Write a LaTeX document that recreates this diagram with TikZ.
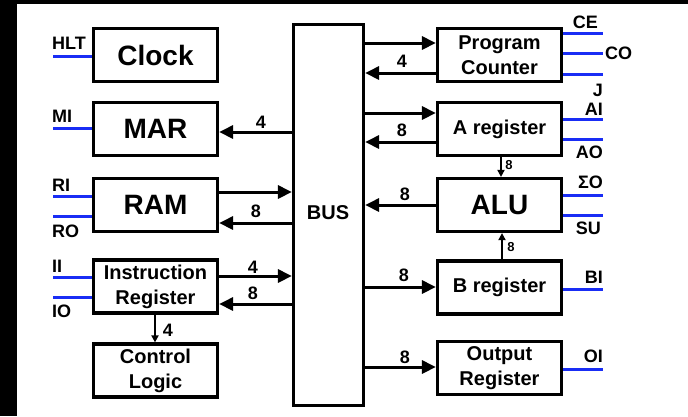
\documentclass[tikz,border=0pt]{standalone}
\usepackage{fontspec}
\setmainfont{Liberation Sans}
\usetikzlibrary{arrows.meta}
\definecolor{ctl}{RGB}{25,45,245}
\begin{document}
\begin{tikzpicture}[x=1pt,y=-1pt,
  box/.style={draw,line width=3.2pt,minimum width=124pt,minimum height=53pt,inner sep=0pt,align=center,font=\fontsize{20}{25}\selectfont\bfseries},
  bigbox/.style={box,font=\fontsize{28}{30}\selectfont\bfseries},
  arr/.style={line width=3pt,-{Triangle[length=14pt,width=13pt]}},
  sarr/.style={line width=1.8pt,-{Triangle[length=7pt,width=7pt]}},
  ctlline/.style={ctl,line width=3pt},
  lbl/.style={inner sep=0pt,font=\fontsize{18}{20}\selectfont\bfseries},
  num/.style={inner sep=0pt,font=\fontsize{18}{20}\selectfont\bfseries},
  snum/.style={inner sep=0pt,font=\fontsize{13}{14}\selectfont\bfseries}]
\fill[black] (0,0) rectangle (688,416);
\fill[white] (17,4) rectangle (688,416);
\useasboundingbox (0,0) rectangle (688,416);

% boxes
\node[bigbox] (clock) at (155.5,55) {Clock};
\node[bigbox] (mar) at (155.5,129) {MAR};
\node[bigbox] (ram) at (155.5,205) {RAM};
\node[box] (ir) at (155.5,286.5) {Instruction\\Register};
\node[box] (cl) at (155.5,370.5) {Control\\Logic};
\node[draw,line width=3.2pt,minimum width=70pt,minimum height=381pt,inner sep=0pt] (bus) at (328.5,215) {};
\node[inner sep=0pt,font=\fontsize{20}{22}\selectfont\bfseries] (buslbl) at (328,213) {BUS};
\node[box] (pc) at (499.5,55) {Program\\Counter};
\node[box] (areg) at (499.5,129) {A register};
\node[bigbox] (alu) at (499.5,205) {ALU};
\node[box] (breg) at (499.5,287.5) {B register};
\node[box] (out) at (499.5,368) {Output\\Register};

% bus connections, left
\draw[arr] (bus.west |- 0,132) -- (mar.east |- 0,132);
\draw[arr] (ram.east |- 0,192) -- (bus.west |- 0,192);
\draw[arr] (bus.west |- 0,223) -- (ram.east |- 0,223);
\draw[arr] (ir.east |- 0,276) -- (bus.west |- 0,276);
\draw[arr] (bus.west |- 0,304) -- (ir.east |- 0,304);
\draw[sarr] (ir.south -| 155,0) -- (cl.north -| 155,0);

\node[num] (n1) at (261,122) {4};
\node[num] (n2) at (256,211) {8};
\node[num] (n3) at (253,267) {4};
\node[num] (n4) at (253,293) {8};
\node[num] (n5) at (168,330) {4};

% bus connections, right
\draw[arr] (bus.east |- 0,43) -- (pc.west |- 0,43);
\draw[arr] (pc.west |- 0,73) -- (bus.east |- 0,73);
\draw[arr] (bus.east |- 0,113) -- (areg.west |- 0,113);
\draw[arr] (areg.west |- 0,142) -- (bus.east |- 0,142);
\draw[arr] (alu.west |- 0,205) -- (bus.east |- 0,205);
\draw[arr] (bus.east |- 0,287) -- (breg.west |- 0,287);
\draw[arr] (bus.east |- 0,367) -- (out.west |- 0,367);
\draw[sarr] (areg.south -| 501,0) -- (alu.north -| 501,0);
\draw[sarr] (breg.north -| 502,0) -- (alu.south -| 502,0);

\node[num] (n6) at (402,61) {4};
\node[num] (n7) at (402,130) {8};
\node[num] (n8) at (405,194) {8};
\node[num] (n9) at (404,275) {8};
\node[num] (n10) at (405,357) {8};
\node[snum] (n11) at (509,165) {8};
\node[snum] (n12) at (511,247) {8};

% control lines, left
\coordinate (hltend) at (53,56);
\coordinate (miend) at (53,128);
\coordinate (riend) at (53,196);
\coordinate (roend) at (53,216);
\coordinate (iiend) at (53,277);
\coordinate (ioend) at (53,297);
\draw[ctlline] (clock.west |- hltend) -- (hltend);
\draw[ctlline] (mar.west |- miend) -- (miend);
\draw[ctlline] (ram.west |- riend) -- (riend);
\draw[ctlline] (ram.west |- roend) -- (roend);
\draw[ctlline] (ir.west |- iiend) -- (iiend);
\draw[ctlline] (ir.west |- ioend) -- (ioend);
\node[lbl,anchor=west] (hlt) at (52,43) {HLT};
\node[lbl,anchor=west] (mi) at (52,116) {MI};
\node[lbl,anchor=west] (ri) at (52,185) {RI};
\node[lbl,anchor=west] (ro) at (52,231) {RO};
\node[lbl,anchor=west] (ii) at (52,266) {II};
\node[lbl,anchor=west] (io) at (52,311) {IO};

% control lines, right
\coordinate (ceend) at (603,33);
\coordinate (coend) at (603,53);
\coordinate (jend) at (603,74);
\coordinate (aiend) at (603,119);
\coordinate (aoend) at (603,139);
\coordinate (soend) at (603,195);
\coordinate (suend) at (603,215);
\coordinate (biend) at (603,289);
\coordinate (oiend) at (603,369);
\draw[ctlline] (pc.east |- ceend) -- (ceend);
\draw[ctlline] (pc.east |- coend) -- (coend);
\draw[ctlline] (pc.east |- jend) -- (jend);
\draw[ctlline] (areg.east |- aiend) -- (aiend);
\draw[ctlline] (areg.east |- aoend) -- (aoend);
\draw[ctlline] (alu.east |- soend) -- (soend);
\draw[ctlline] (alu.east |- suend) -- (suend);
\draw[ctlline] (breg.east |- biend) -- (biend);
\draw[ctlline] (out.east |- oiend) -- (oiend);
\node[lbl,anchor=east] (ce) at (598,22) {CE};
\node[lbl,anchor=west] (co) at (605,53) {CO};
\node[lbl,anchor=east] (j) at (603,90) {J};
\node[lbl,anchor=east] (ai) at (603,109) {AI};
\node[lbl,anchor=east] (ao) at (603,152) {AO};
\node[lbl,anchor=east] (so) at (603,182) {ΣO};
\node[lbl,anchor=east] (su) at (601,228) {SU};
\node[lbl,anchor=east] (bi) at (603,277) {BI};
\node[lbl,anchor=east] (oi) at (603,356) {OI};
\end{tikzpicture}
\end{document}
